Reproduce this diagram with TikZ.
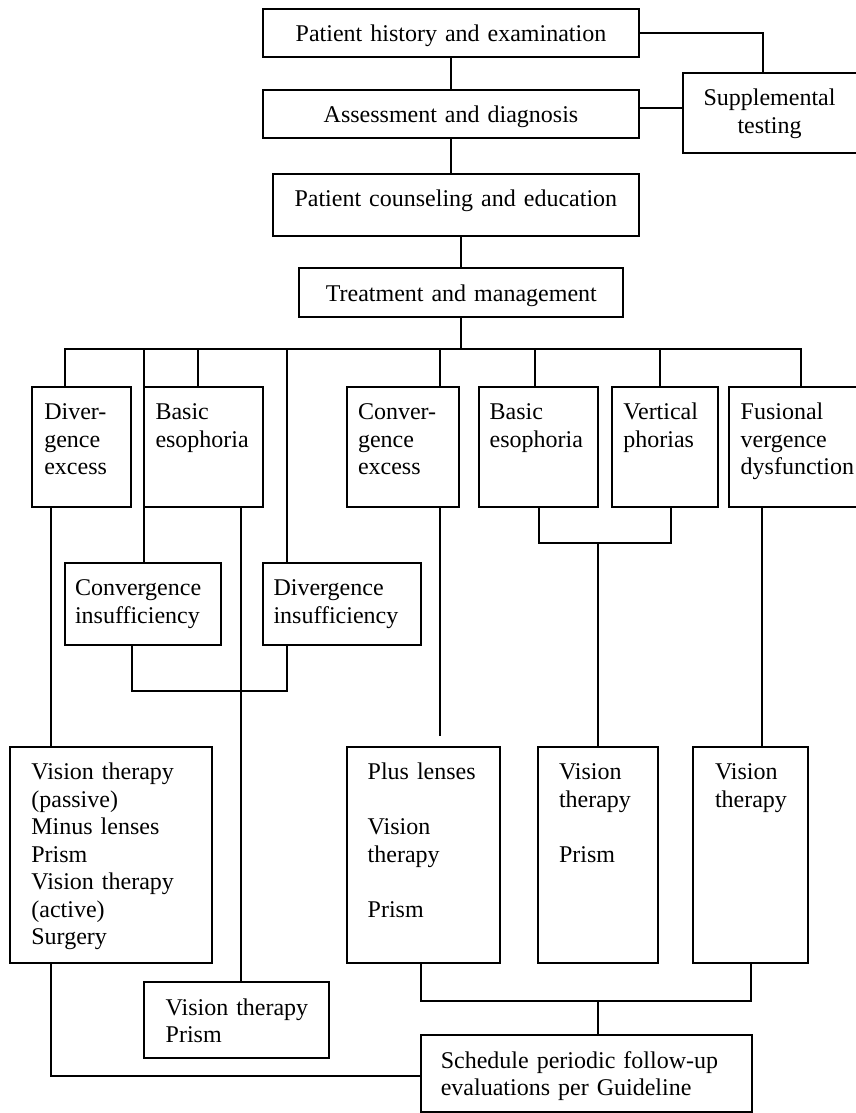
\documentclass[tikz,border=0pt]{standalone}
\usepackage{fontspec}
\setmainfont{Liberation Serif}
\usetikzlibrary{calc}
\newcommand\nohyph{\hyphenpenalty=10000\relax\exhyphenpenalty=10000\relax}
\tikzset{
  box/.style={draw, line width=1pt, anchor=north west, inner ysep=0pt, outer sep=0pt,
    text height=16.5pt, align=left, font=\fontsize{12}{13.75}\selectfont\nohyph},
  conn/.style={line width=1pt},
  boxline/.style={line width=1pt},
}
% \bx[opts]{name}{x1}{y1}{x2}{y2}{padx}{text}   (pixel units)
\newcommand\bx[8][]{%
  \pgfmathsetmacro\bxw{(#5-#3-2*#7)*0.5}%
  \pgfmathsetmacro\bxd{(#6-#4)*0.5-16.5}%
  \pgfmathsetmacro\bxs{#7*0.5}%
  \node[box,#1,inner xsep=\bxs pt,text width=\bxw pt,text depth=\bxd pt] (#2) at (#3,#4) {#8};}
\begin{document}
\begin{tikzpicture}[x=0.5pt,y=-0.5pt]
\useasboundingbox (0,0) rectangle (856,1113);

% top chain
\bx[align=center]{hist}{263}{9}{639}{57.3}{12}{Patient history and examination}
\bx[align=center]{assess}{263}{90}{639}{138.3}{12}{Assessment and diagnosis}
\bx[align=center,draw=none]{supp}{683}{72.7}{856}{152.7}{12}{Supplemental\\testing}
\draw[boxline] ($(supp.north east)+(20,0)$) -- (supp.north west) -- (supp.south west) -- ($(supp.south east)+(20,0)$);
\bx[align=center]{couns}{272.7}{173.7}{639}{236}{12}{Patient counseling and education}
\bx[align=center]{treat}{299.3}{268.3}{623.3}{316.7}{12}{Treatment and management}

% first row of conditions
\bx{divex}{32.3}{386.7}{131}{506.7}{12}{Diver-\\gence\\excess}
\bx{basic1}{144}{386.7}{262.7}{506.7}{11.5}{Basic\\esophoria}
\bx{convex}{347}{386.7}{459}{506.7}{11}{Conver-\\gence\\excess}
\bx{basic2}{478.7}{386.7}{597.7}{506.7}{11}{Basic\\esophoria}
\bx{vert}{612}{386.7}{718}{506.7}{11.4}{Vertical\\phorias}
\bx{fusion}{729}{386.7}{872}{506.7}{11.7}{Fusional\\vergence\\dysfunction}

% insufficiencies
\bx{convins}{65}{562.7}{221}{644.7}{10}{Convergence\\insufficiency}
\bx{divins}{263}{562.7}{420.8}{644.7}{10.5}{Divergence\\insufficiency}

% treatments
\bx{vtbig}{10.4}{746.7}{212.3}{962.5}{21}{Vision~therapy\\(passive)\\Minus~lenses\\Prism\\Vision~therapy\\(active)\\Surgery}
\bx{plus}{346.7}{746.7}{499.7}{962.7}{21}{Plus~lenses\\[13.75pt]Vision\\therapy\\[13.75pt]Prism}
\bx{vtp}{538}{746.7}{658.3}{962.7}{21}{Vision\\therapy\\[13.75pt]Prism}
\bx{vt}{693}{746.7}{808}{962.7}{22}{Vision\\therapy}
\bx{vtsmall}{143.7}{982.3}{329.3}{1058.3}{22}{Vision~therapy\\Prism}
\bx{sched}{420.8}{1035}{752.2}{1111.5}{20}{Schedule periodic follow-up\\evaluations per Guideline}

% connectors, top
\draw[conn] (hist.south) -- (assess.north);
\draw[conn] (assess.south) -- (assess.south |- couns.north);
\draw[conn] (treat.north) -- (treat.north |- couns.south);
\draw[conn] (hist.east) -| ($(supp.north west)+(80,0)$);
\draw[conn] ([yshift=3pt]assess.east) -- ([yshift=3pt]assess.east -| supp.west);

% bus
\coordinate (bus) at ($(treat.south)+(0,32.6)$);
\coordinate (dA) at ($(divex.north west)+(32.7,0)$);
\coordinate (dB) at ($(convins.north west)+(79,0)$);
\coordinate (dC) at ($(basic1.north west)+(53.7,0)$);
\coordinate (dD) at ($(divins.north west)+(24,0)$);
\coordinate (dE) at ($(convex.north west)+(93,0)$);
\coordinate (dF) at ($(basic2.north west)+(56.3,0)$);
\coordinate (dG) at ($(vert.north west)+(48,0)$);
\coordinate (dH) at ($(fusion.north west)+(71.8,0)$);
\draw[conn] (treat.south) -- (bus);
\draw[conn] (dA) |- (dH |- bus) -- (dH);
\foreach \d in {dB,dC,dD,dE,dF,dG} \draw[conn] (\d) -- (\d |- bus);

% connectors, lower
\coordinate (eA) at ($(divex.south west)+(18.7,0)$);
\draw[conn] (eA) -- (eA |- vtbig.north);
\coordinate (eB) at ($(basic1.south west)+(96.7,0)$);
\draw[conn] (eB) -- (eB |- vtsmall.north);
\coordinate (eC) at ($(convex.south west)+(93,0)$);
\coordinate (eCend) at ($(eC)+(0,229)$);
\draw[conn] (eC) -- (eCend);
\coordinate (j1) at ($(vtp.north)+(0,-204)$);
\draw[conn] ($(basic2.south west)+(60.6,0)$) |- (j1) -| ($(vert.south west)+(58.8,0)$);
\draw[conn] (j1) -- (vtp.north);
\coordinate (eF) at ($(fusion.south west)+(32.5,0)$);
\draw[conn] (eF) -- (eF |- vt.north);
\draw[conn] ($(convins.south west)+(66.5,0)$) -- ++(0,45.8) -| ($(divins.south west)+(24,0)$);
\coordinate (j2) at ($(sched.north west)+(177,-34.5)$);
\draw[conn] ($(plus.south west)+(74.3,0)$) |- (j2) -| ($(vt.south west)+(58,0)$);
\draw[conn] (j2) -- (j2 |- sched.north);
\draw[conn] ($(vtbig.south west)+(40.6,0)$) |- ($(sched.west)+(0,2.4)$);
\end{tikzpicture}
\end{document}
